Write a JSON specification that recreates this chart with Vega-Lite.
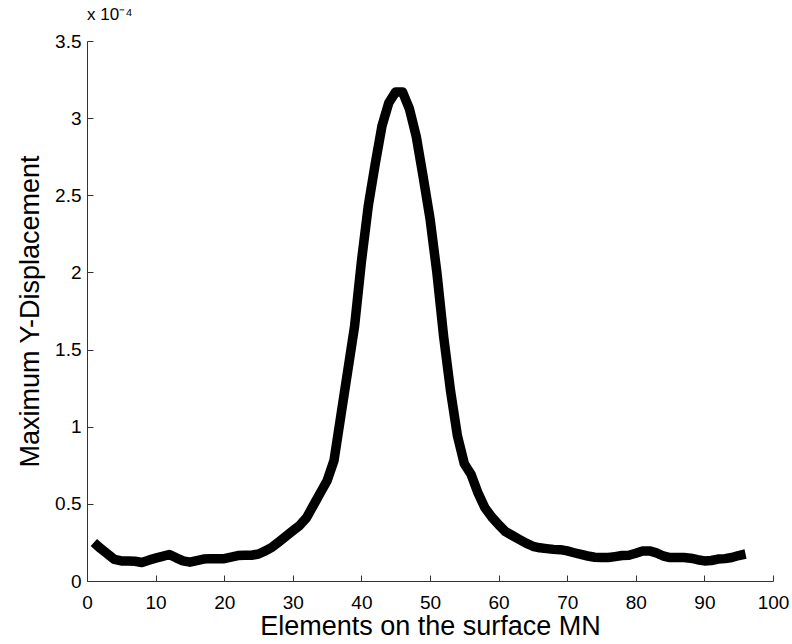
{
  "$schema": "https://vega.github.io/schema/vega-lite/v6.json",
  "autosize": {"type": "none"},
  "padding": {"left": 87, "top": 41, "right": 19, "bottom": 63},
  "width": 686,
  "height": 540,
  "background": "white",
  "title": {
    "text": "x 10⁻⁴",
    "anchor": "start",
    "frame": "group",
    "orient": "top",
    "offset": 8,
    "font": "Liberation Sans",
    "fontSize": 17,
    "fontWeight": "normal",
    "color": "#000000"
  },
  "config": {
    "view": {"stroke": null},
    "axis": {
      "grid": false,
      "domainColor": "#333333",
      "tickColor": "#333333",
      "labelFont": "Liberation Sans",
      "labelFontSize": 19,
      "labelColor": "#000000",
      "titleFont": "Liberation Sans",
      "titleFontSize": 27,
      "titleFontWeight": "normal",
      "titleColor": "#000000"
    }
  },
  "data": {
    "values": [
      {"element": 1, "disp": 0.000025},
      {"element": 2, "disp": 0.000021},
      {"element": 3, "disp": 0.0000175},
      {"element": 4, "disp": 0.000014},
      {"element": 5, "disp": 0.000013},
      {"element": 6, "disp": 0.000013},
      {"element": 7, "disp": 0.0000128},
      {"element": 8, "disp": 0.000012},
      {"element": 9, "disp": 0.0000135},
      {"element": 10, "disp": 0.0000148},
      {"element": 11, "disp": 0.000016},
      {"element": 12, "disp": 0.0000172},
      {"element": 13, "disp": 0.000015},
      {"element": 14, "disp": 0.000013},
      {"element": 15, "disp": 0.0000122},
      {"element": 16, "disp": 0.0000132},
      {"element": 17, "disp": 0.0000142},
      {"element": 18, "disp": 0.0000145},
      {"element": 19, "disp": 0.0000145},
      {"element": 20, "disp": 0.0000145},
      {"element": 21, "disp": 0.0000155},
      {"element": 22, "disp": 0.0000165},
      {"element": 23, "disp": 0.0000167},
      {"element": 24, "disp": 0.0000167},
      {"element": 25, "disp": 0.0000175},
      {"element": 26, "disp": 0.0000195},
      {"element": 27, "disp": 0.000022},
      {"element": 28, "disp": 0.0000255},
      {"element": 29, "disp": 0.000029},
      {"element": 30, "disp": 0.0000325},
      {"element": 31, "disp": 0.000036},
      {"element": 32, "disp": 0.000041},
      {"element": 33, "disp": 0.000049},
      {"element": 34, "disp": 0.000057},
      {"element": 35, "disp": 0.000065},
      {"element": 36, "disp": 0.000078},
      {"element": 37, "disp": 0.000107},
      {"element": 38, "disp": 0.000136},
      {"element": 39, "disp": 0.000165},
      {"element": 40, "disp": 0.000207},
      {"element": 41, "disp": 0.000243},
      {"element": 42, "disp": 0.00027},
      {"element": 43, "disp": 0.000295},
      {"element": 44, "disp": 0.00031},
      {"element": 45, "disp": 0.000317},
      {"element": 46, "disp": 0.000317},
      {"element": 47, "disp": 0.000306},
      {"element": 48, "disp": 0.000288},
      {"element": 49, "disp": 0.000262},
      {"element": 50, "disp": 0.000235},
      {"element": 51, "disp": 0.0002},
      {"element": 52, "disp": 0.000158},
      {"element": 53, "disp": 0.000123},
      {"element": 54, "disp": 0.000094},
      {"element": 55, "disp": 0.000076},
      {"element": 56, "disp": 0.000069},
      {"element": 57, "disp": 0.000057},
      {"element": 58, "disp": 0.0000475},
      {"element": 59, "disp": 0.0000415},
      {"element": 60, "disp": 0.0000365},
      {"element": 61, "disp": 0.000032},
      {"element": 62, "disp": 0.0000295},
      {"element": 63, "disp": 0.000027},
      {"element": 64, "disp": 0.0000245},
      {"element": 65, "disp": 0.0000225},
      {"element": 66, "disp": 0.0000215},
      {"element": 67, "disp": 0.000021},
      {"element": 68, "disp": 0.0000205},
      {"element": 69, "disp": 0.0000203},
      {"element": 70, "disp": 0.0000195},
      {"element": 71, "disp": 0.0000183},
      {"element": 72, "disp": 0.0000172},
      {"element": 73, "disp": 0.0000162},
      {"element": 74, "disp": 0.0000154},
      {"element": 75, "disp": 0.0000152},
      {"element": 76, "disp": 0.0000152},
      {"element": 77, "disp": 0.0000158},
      {"element": 78, "disp": 0.0000165},
      {"element": 79, "disp": 0.0000167},
      {"element": 80, "disp": 0.000018},
      {"element": 81, "disp": 0.0000195},
      {"element": 82, "disp": 0.0000195},
      {"element": 83, "disp": 0.0000182},
      {"element": 84, "disp": 0.0000162},
      {"element": 85, "disp": 0.0000152},
      {"element": 86, "disp": 0.0000152},
      {"element": 87, "disp": 0.0000152},
      {"element": 88, "disp": 0.0000148},
      {"element": 89, "disp": 0.0000138},
      {"element": 90, "disp": 0.000013},
      {"element": 91, "disp": 0.0000133},
      {"element": 92, "disp": 0.0000142},
      {"element": 93, "disp": 0.0000145},
      {"element": 94, "disp": 0.0000152},
      {"element": 95, "disp": 0.0000165},
      {"element": 96, "disp": 0.0000175}
    ]
  },
  "mark": {"type": "line", "color": "#000000", "strokeWidth": 9.5, "strokeJoin": "round", "strokeCap": "butt", "clip": false},
  "encoding": {
    "x": {
      "field": "element",
      "type": "quantitative",
      "scale": {"domain": [0, 100], "nice": false, "zero": false},
      "axis": {
        "title": "Elements on the surface MN",
        "values": [0, 10, 20, 30, 40, 50, 60, 70, 80, 90, 100],
        "tickSize": -6,
        "labelPadding": 18,
        "titlePadding": 1,
        "labelFlush": false,
        "labelOverlap": false
      }
    },
    "y": {
      "field": "disp",
      "type": "quantitative",
      "scale": {"domain": [0, 0.00035], "nice": false, "zero": true},
      "axis": {
        "title": "Maximum Y-Displacement",
        "values": [0, 0.00005, 0.0001, 0.00015, 0.0002, 0.00025, 0.0003, 0.00035],
        "labelExpr": "format(datum.value * 10000, '~g')",
        "tickSize": -6,
        "labelPadding": 12,
        "titlePadding": 10,
        "labelFlush": false,
        "labelOverlap": false
      }
    }
  }
}
